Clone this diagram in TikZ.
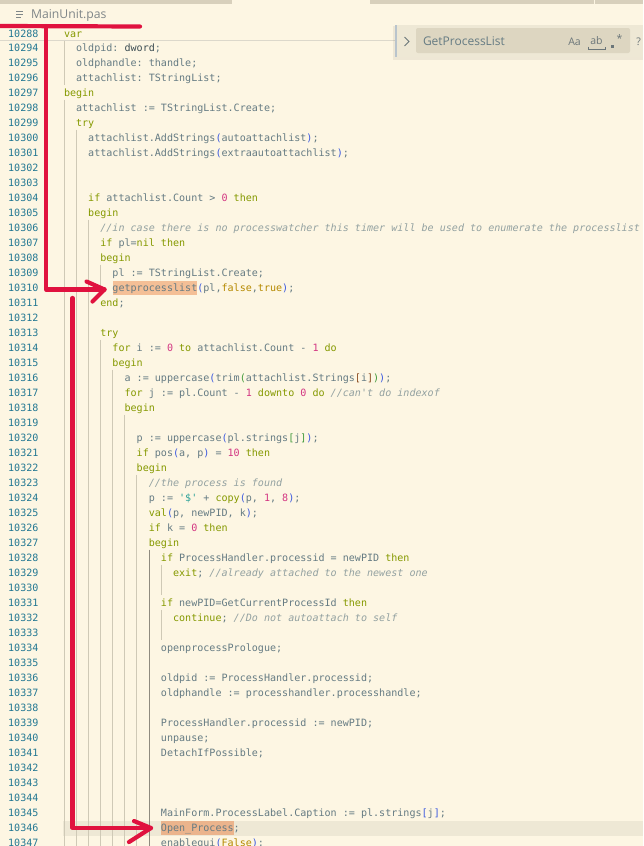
\documentclass[tikz,border=0pt]{standalone}
\usepackage{fontspec}
\setmainfont{Open Sans}
\newfontfamily\codefont{DejaVu Sans Mono}
\usetikzlibrary{positioning}

\definecolor{paper}{HTML}{FDF6E3}
\definecolor{tabbar}{HTML}{D8D0BC}
\definecolor{crumbcol}{HTML}{7F8688}
\definecolor{lncol}{HTML}{237893}
\definecolor{ident}{HTML}{657B83}
\definecolor{kwcol}{HTML}{859900}
\definecolor{numcol}{HTML}{D33682}
\definecolor{cmtcol}{HTML}{93A1A1}
\definecolor{strcol}{HTML}{2AA198}
\definecolor{litcol}{HTML}{B58900}
\definecolor{typecol}{HTML}{3B4C52}
\definecolor{brAcol}{HTML}{3C5AE0}
\definecolor{brBcol}{HTML}{419A3A}
\definecolor{brCcol}{HTML}{8B4A1E}
\definecolor{hlcol}{HTML}{F4BF96}
\definecolor{hlcurcol}{HTML}{EBB48C}
\definecolor{curline}{HTML}{EEE8D5}
\definecolor{guidecol}{HTML}{CFC9B6}
\definecolor{guideact}{HTML}{8F8B7F}
\definecolor{stickyline}{HTML}{DCD8CB}
\definecolor{markred}{HTML}{E0123F}
\definecolor{widgetbg}{HTML}{EEE8D5}
\definecolor{inputbg}{HTML}{DDD6C1}
\definecolor{sashcol}{HTML}{B9C4CC}
\definecolor{widgetfg}{HTML}{6B7679}

\newcommand\codesize{\fontsize{10.07}{12}\codefont}
\newcommand\kw[1]{\textcolor{kwcol}{#1}}
\newcommand\nmb[1]{\textcolor{numcol}{#1}}
\newcommand\cmnt[1]{\textcolor{cmtcol}{\itshape #1}}
\newcommand\strg[1]{\textcolor{strcol}{#1}}
\newcommand\lit[1]{\textcolor{litcol}{#1}}
\newcommand\brA[1]{\textcolor{brAcol}{#1}}
\newcommand\brB[1]{\textcolor{brBcol}{#1}}
\newcommand\brC[1]{\textcolor{brCcol}{#1}}
% one source line: index, indent level, text
\newcommand\codeline[3]{\node[code] (c#1) at ({64+12.12*#2},{36+15*#1}) {#3};}

\begin{document}
\frenchspacing
\begin{tikzpicture}[x=1pt,y=-1pt]
    \tikzstyle{every node}=[inner sep=0pt, outer sep=0pt]
    \tikzstyle{code}=[anchor=base west, font=\codesize, text=ident]
    \tikzstyle{lnum}=[anchor=base east, font=\codesize, text=lncol]
    \tikzstyle{guide}=[draw=guidecol, line width=0.6pt]
    \tikzstyle{hilite}=[fill=hlcol, anchor=west, minimum height=14pt]
    \tikzstyle{redmark}=[draw=markred, line width=4.2pt, line cap=round, line join=round]
    \tikzstyle{icon}=[font=\fontsize{10.5}{12}\selectfont, text=widgetfg]
    \useasboundingbox (0,0) rectangle (643,846);
    \fill[paper] (0,0) rectangle (643,846);
    % tab bar and breadcrumb
    \fill[tabbar] (0,0) rectangle (232,3.5);
    \fill[tabbar] (370,0) rectangle (643,3.5);
    \draw[paper, line width=0.6pt] (594,0) -- (594,3.5);
    \draw[crumbcol, line width=0.9pt] (16,11) -- (23,11) (16,14) -- (23,14) (16,17) -- (21,17);
    \node[anchor=west, font=\fontsize{12.2}{14}\selectfont, text=crumbcol] (crumb) at (31,15) {MainUnit.pas};
    % current line and search hits
    \fill[curline] (63,820.5) rectangle (643,835.5);
    \node[hilite, minimum width=84.8pt] (hl1) at (112.5,287.5) {};
    \node[hilite, fill=hlcurcol, minimum width=72.7pt] (hl2) at (161,828) {};
    % indent guides
    \foreach \j/\a/\b in {0/1/3,0/5/54,1/7/54,2/13/54,3/16/17,3/21/54,4/23/54,5/26/54,6/30/54,8/36/37,8/39/40}
        \draw[guide] ({64+12.12*\j},{24.5+15*\a}) -- ({64+12.12*\j},{39.5+15*\b});
    \draw[guide, draw=guideact] ({64+12.12*7},{24.5+15*35}) -- ({64+12.12*7},846);
    \draw[stickyline, line width=0.6pt] (0,40) -- (395,40);
    % line numbers
    \node[lnum] (n0) at (38.5,37.5) {10288};
    \foreach \k in {1,...,54} {
        \pgfmathtruncatemacro\lno{10293+\k}
        \node[lnum] (n\k) at (38.5,{36+15*\k}) {\lno};
    }
    % code
    \node[code] (c0) at (64,37.5) {\kw{var}};
    \codeline{1}{1}{oldpid: \textcolor{typecol}{dword};}
    \codeline{2}{1}{oldphandle: thandle;}
    \codeline{3}{1}{attachlist: TStringList;}
    \codeline{4}{0}{\kw{begin}}
    \codeline{5}{1}{attachlist := TStringList.Create;}
    \codeline{6}{1}{\kw{try}}
    \codeline{7}{2}{attachlist.AddStrings\brA{(}autoattachlist\brA{)};}
    \codeline{8}{2}{attachlist.AddStrings\brA{(}extraautoattachlist\brA{)};}
    \codeline{11}{2}{\kw{if} attachlist.Count > \nmb{0} \kw{then}}
    \codeline{12}{2}{\kw{begin}}
    \codeline{13}{3}{\cmnt{//in case there is no processwatcher this timer will be used to enumerate the processlist}}
    \codeline{14}{3}{\kw{if} pl=\kw{nil} \kw{then}}
    \codeline{15}{3}{\kw{begin}}
    \codeline{16}{4}{pl := TStringList.Create;}
    \codeline{17}{4}{getprocesslist\brA{(}pl,\lit{false},\lit{true}\brA{)};}
    \codeline{18}{3}{\kw{end};}
    \codeline{20}{3}{\kw{try}}
    \codeline{21}{4}{\kw{for} i := \nmb{0} \kw{to} attachlist.Count - \nmb{1} \kw{do}}
    \codeline{22}{4}{\kw{begin}}
    \codeline{23}{5}{a := uppercase\brA{(}trim\brB{(}attachlist.Strings\brC{[}i\brC{]}\brB{)}\brA{)};}
    \codeline{24}{5}{\kw{for} j := pl.Count - \nmb{1} \kw{downto} \nmb{0} \kw{do} \cmnt{//can't do indexof}}
    \codeline{25}{5}{\kw{begin}}
    \codeline{27}{6}{p := uppercase\brA{(}pl.strings\brB{[}j\brB{]}\brA{)};}
    \codeline{28}{6}{\kw{if} pos\brA{(}a, p\brA{)} = \nmb{10} \kw{then}}
    \codeline{29}{6}{\kw{begin}}
    \codeline{30}{7}{\cmnt{//the process is found}}
    \codeline{31}{7}{p := \strg{'\$'} + \kw{copy}\brA{(}p, \nmb{1}, \nmb{8}\brA{)};}
    \codeline{32}{7}{\kw{val}\brA{(}p, newPID, k\brA{)};}
    \codeline{33}{7}{\kw{if} k = \nmb{0} \kw{then}}
    \codeline{34}{7}{\kw{begin}}
    \codeline{35}{8}{\kw{if} ProcessHandler.processid = newPID \kw{then}}
    \codeline{36}{9}{\kw{exit}; \cmnt{//already attached to the newest one}}
    \codeline{38}{8}{\kw{if} newPID=GetCurrentProcessId \kw{then}}
    \codeline{39}{9}{\kw{continue}; \cmnt{//Do not autoattach to self}}
    \codeline{41}{8}{openprocessPrologue;}
    \codeline{43}{8}{oldpid := ProcessHandler.processid;}
    \codeline{44}{8}{oldphandle := processhandler.processhandle;}
    \codeline{46}{8}{ProcessHandler.processid := newPID;}
    \codeline{47}{8}{unpause;}
    \codeline{48}{8}{DetachIfPossible;}
    \codeline{52}{8}{MainForm.ProcessLabel.Caption := pl.strings\brA{[}j\brA{]};}
    \codeline{53}{8}{Open\_Process;}
    \codeline{54}{8}{enablegui\brA{(}\lit{False}\brA{)};}
    % red marks
    \coordinate (topL) at (0,26);
    \coordinate (topR) at (140,26.5);
    \coordinate (a1start) at (46,26);
    \coordinate (a2start) at (72.5,298);
    \coordinate (tip1) at ([xshift=-8pt,yshift=-2pt]hl1.west);
    \coordinate (tip2) at ([xshift=-10pt]hl2.west);
    \draw[redmark] (topL) -- (topR);
    \draw[redmark] (a1start) |- (tip1);
    \draw[redmark] ([shift={(-18,-8)}]tip1) -- (tip1) -- ([shift={(-12,12)}]tip1);
    \draw[redmark] (a2start) |- (tip2);
    \draw[redmark] ([shift={(-17,-7)}]tip2) -- (tip2) -- ([shift={(-22,14)}]tip2);
    % find widget
    \fill[black, opacity=0.06] (393,26) rectangle (643,60);
    \fill[widgetbg] (395,25) rectangle (643,57);
    \draw[sashcol, line width=1.5pt] (396,25) -- (396,57);
    \fill[inputbg, rounded corners=2pt] (416,28) rectangle (630,53);
    \draw[widgetfg, line width=0.8pt] (404.5,37) -- (409,41.5) -- (404.5,46);
    \node[anchor=west, font=\fontsize{12}{14}\selectfont, text=ident] (query) at (423,41.5) {GetProcessList};
    \node[icon] (optcase) at (574.5,41.5) {Aa};
    \node[icon] (optword) at (596.5,40.5) {ab};
    \draw[widgetfg, line width=0.7pt] (588,46.5) -- (588,49) -- (605,49) -- (605,46.5);
    \fill[widgetfg] (610.5,44.5) rectangle (614,48);
    \node[icon] (optregex) at (619.5,39) {*};
    \node[icon] (help) at (638.5,41.5) {?};
\end{tikzpicture}
\end{document}
